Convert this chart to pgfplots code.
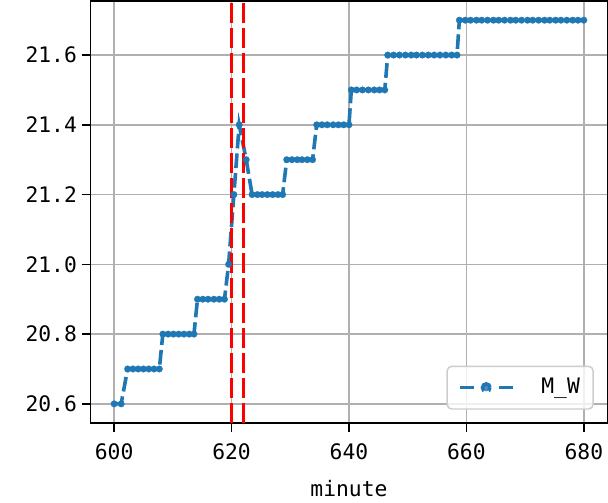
\documentclass[border=0pt]{standalone}
\usepackage{fontspec}
\setmainfont{DejaVu Sans Mono}
\usepackage{pgfplots}
\pgfplotsset{compat=1.18}
\definecolor{mblue}{HTML}{1F77B4}
\definecolor{mgrid}{HTML}{B0B0B0}
\definecolor{lgframe}{HTML}{CCCCCC}
\begin{document}
\fontsize{16bp}{19bp}\selectfont
\begin{tikzpicture}
\begin{axis}[name=ax, at={(0,0)}, anchor=south west,
  scale only axis, width=387.75bp, height=316.7bp,
  xmin=596, xmax=684, ymin=20.545, ymax=21.755,
  xtick={600,620,640,660,680},
  ytick={20.6,20.8,21.0,21.2,21.4,21.6},
  grid=major, major grid style={mgrid, line width=1.2bp},
  axis line style={line width=1.1bp},
  tick style={black, line width=1.1bp},
  major tick length=6.75bp, tick align=outside, tick pos=left,
  tick label style={font=\fontsize{16bp}{19bp}\selectfont},
  /pgf/number format/assume math mode=true,
  yticklabel style={xshift=2bp, /pgf/number format/.cd, fixed, fixed zerofill, precision=1},
  xticklabel style={yshift=-3bp, /pgf/number format/.cd, fixed, precision=0, 1000 sep={}},
  xlabel={minute},
  xlabel style={yshift=-5bp, font=\fontsize{16bp}{19bp}\selectfont},
  legend style={at={(0.974,0.0315)}, anchor=south east,
    draw=lgframe, line width=1.1bp, rounded corners=3.5bp,
    fill=white, fill opacity=0.8, text opacity=1,
    font=\fontsize{16bp}{19bp}\selectfont,
    inner xsep=8bp, inner ysep=7bp},
  legend image code/.code={
    \draw[#1, solid, mark=none] (0bp,0bp) -- (10.5bp,0bp);
    \draw[#1, solid, mark=none] (29.5bp,0bp) -- (40bp,0bp);
    \fill[mblue] (20bp,0bp) circle (2.8bp);
  },
]
\addplot[mblue, line width=2.7bp, dash pattern=on 11bp off 3.75bp,
  mark=*, mark size=2.5bp, mark options={solid, fill=mblue, draw=mblue, line width=0.1bp}]
coordinates {
(600.0,20.6) (601.2,20.6)
(602.3,20.7) (603.2,20.7) (604.1,20.7) (605.0,20.7) (605.9,20.7) (606.8,20.7) (607.7,20.7)
(608.3,20.8) (609.2,20.8) (610.1,20.8) (611.0,20.8) (611.9,20.8) (612.8,20.8) (613.6,20.8)
(614.2,20.9) (615.1,20.9) (616.0,20.9) (617.0,20.9) (617.9,20.9) (618.8,20.9)
(619.5,21.0)
(620.4,21.2)
(621.3,21.4)
(622.5,21.3)
(623.5,21.2) (624.4,21.2) (625.2,21.2) (626.1,21.2) (627.0,21.2) (627.9,21.2) (628.7,21.2)
(629.4,21.3) (630.3,21.3) (631.2,21.3) (632.0,21.3) (632.9,21.3) (633.8,21.3)
(634.5,21.4) (635.4,21.4) (636.3,21.4) (637.3,21.4) (638.2,21.4) (639.1,21.4) (640.0,21.4)
(640.4,21.5) (641.3,21.5) (642.3,21.5) (643.3,21.5) (644.3,21.5) (645.2,21.5) (646.1,21.5)
(646.6,21.6) (647.6,21.6) (648.6,21.6) (649.6,21.6) (650.6,21.6) (651.5,21.6) (652.5,21.6) (653.5,21.6) (654.5,21.6) (655.5,21.6) (656.5,21.6) (657.5,21.6) (658.4,21.6)
(658.8,21.7) (659.8,21.7) (660.7,21.7) (661.7,21.7) (662.6,21.7) (663.6,21.7) (664.6,21.7) (665.5,21.7) (666.5,21.7) (667.5,21.7) (668.4,21.7) (669.4,21.7) (670.4,21.7) (671.3,21.7) (672.3,21.7) (673.3,21.7) (674.2,21.7) (675.2,21.7) (676.1,21.7) (677.1,21.7) (678.1,21.7) (679.0,21.7) (680.0,21.7)
};
\addlegendentry{\hspace*{18bp}M\_W}
\addplot[red, line width=2.6bp, dash pattern=on 15bp off 3.75bp, forget plot] coordinates {(620,20.545) (620,21.755)};
\addplot[red, line width=2.6bp, dash pattern=on 15bp off 3.75bp, forget plot] coordinates {(622,20.545) (622,21.755)};
\end{axis}
\pgfresetboundingbox
\path ([xshift=-68bp, yshift=-59.8bp]ax.south west) rectangle ([xshift=0.5bp, yshift=0.75bp]ax.north east);
\end{tikzpicture}
\end{document}
